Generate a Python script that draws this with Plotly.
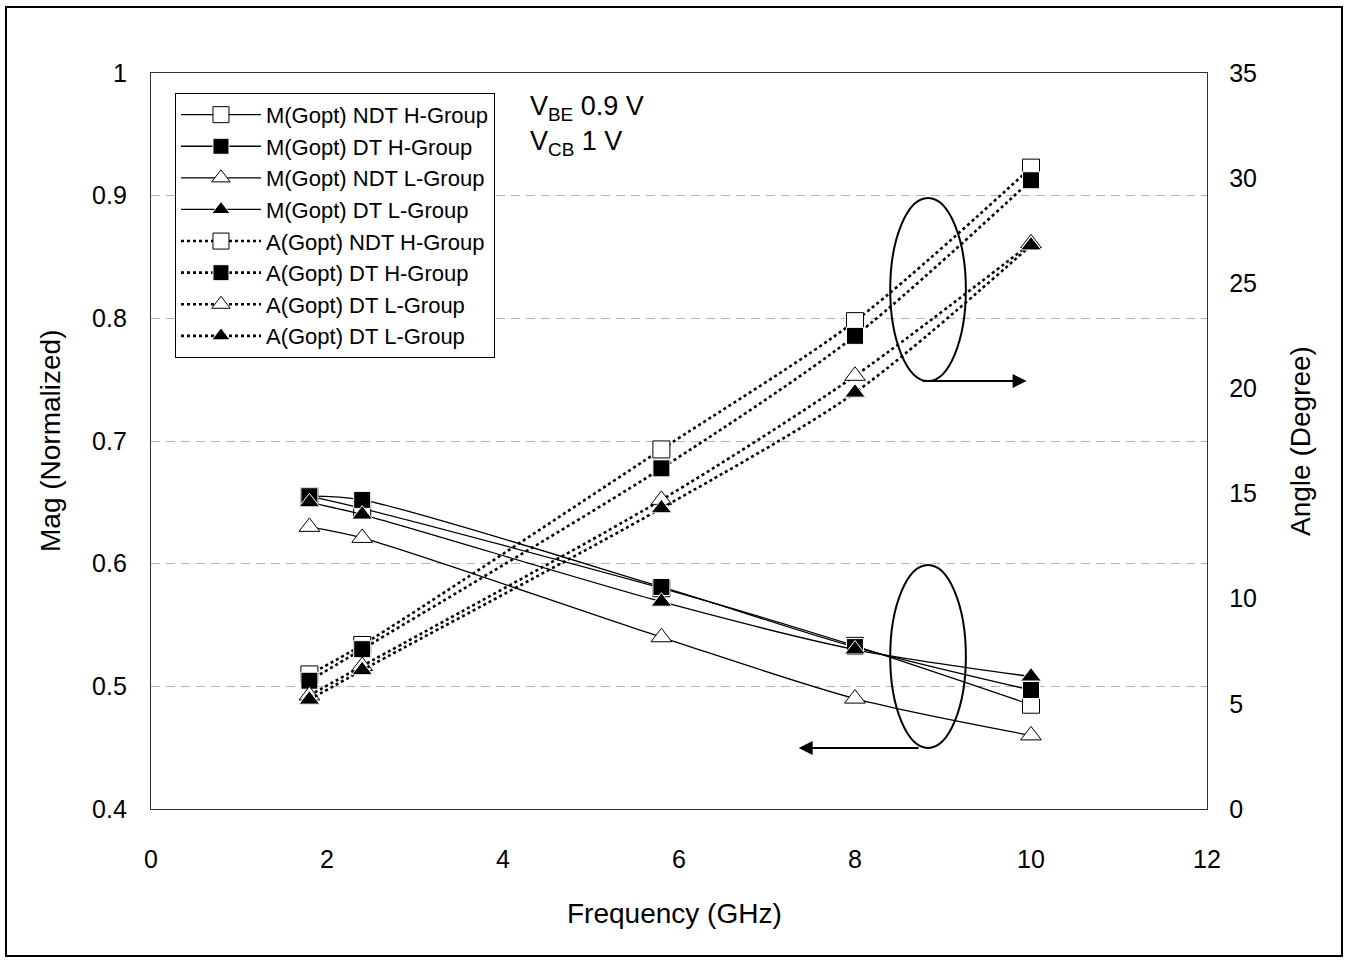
import plotly.graph_objects as go

# Frequency points (GHz)
freq = [1.8, 2.4, 5.8, 8.0, 10.0]

# Normalized magnitude of Gopt
mag_ndt_h = [0.655, 0.645, 0.580, 0.533, 0.485]
mag_dt_h = [0.655, 0.652, 0.581, 0.532, 0.497]
mag_ndt_l = [0.630, 0.621, 0.540, 0.490, 0.460]
mag_dt_l = [0.650, 0.640, 0.569, 0.530, 0.508]

# Angle of Gopt (degree)
ang_ndt_h = [6.4, 7.8, 17.1, 23.2, 30.5]
ang_dt_h = [6.1, 7.6, 16.2, 22.5, 29.9]
ang_ndt_l = [5.4, 6.8, 14.7, 20.6, 26.9]
ang_dt_l = [5.2, 6.6, 14.3, 19.8, 26.8]

names = [
    "M(Gopt) NDT H-Group", "M(Gopt) DT H-Group", "M(Gopt) NDT L-Group", "M(Gopt) DT L-Group",
    "A(Gopt) NDT H-Group", "A(Gopt) DT H-Group", "A(Gopt) DT L-Group", "A(Gopt) DT L-Group",
]

FONT = "Liberation Sans, Arial, sans-serif"
open_sq = dict(symbol="square", size=17, color="white", line=dict(color="black", width=1))
fill_sq = dict(symbol="square", size=17, color="black", line=dict(color="white", width=1))
open_tri = dict(symbol="triangle-up", size=18, color="white", line=dict(color="black", width=1))
fill_tri = dict(symbol="triangle-up", size=18, color="black", line=dict(color="white", width=1))

solid = dict(color="black", width=1.3, shape="spline", smoothing=0.8)
dotted = dict(color="black", width=2.6, dash="3px,3px", shape="spline", smoothing=0.8)

fig = go.Figure()
series = [
    (mag_ndt_h, open_sq, solid, "y"),
    (mag_dt_h, fill_sq, solid, "y"),
    (mag_ndt_l, open_tri, solid, "y"),
    (mag_dt_l, fill_tri, solid, "y"),
    (ang_ndt_h, open_sq, dotted, "y2"),
    (ang_dt_h, fill_sq, dotted, "y2"),
    (ang_ndt_l, open_tri, dotted, "y2"),
    (ang_dt_l, fill_tri, dotted, "y2"),
]
for (vals, mk, ln, ax), nm in zip(series, names):
    fig.add_trace(go.Scatter(
        x=freq, y=vals, name=nm, mode="lines+markers",
        marker=mk, line=ln, yaxis=ax,
    ))

axis_line = dict(showline=True, linecolor="#333333", linewidth=1.3, ticks="",
                 tickfont=dict(family=FONT, size=25, color="black"))

fig.update_layout(
    width=1350, height=963,
    margin=dict(l=151, r=143, t=73, b=154),
    paper_bgcolor="white", plot_bgcolor="white",
    font=dict(family=FONT, color="black"),
    showlegend=True,
    legend=dict(
        x=0.0227, y=0.973, xanchor="left", yanchor="top",
        bordercolor="black", borderwidth=1, bgcolor="white",
        font=dict(family=FONT, size=22, color="black"),
        traceorder="normal", itemwidth=80,
    ),
    xaxis=dict(range=[0, 12], dtick=2, showgrid=False, zeroline=False,
               mirror=True, ticklabelstandoff=28, **axis_line),
    yaxis=dict(range=[0.4, 1.0], dtick=0.1, showgrid=True, gridcolor="#b4b4b4",
               gridwidth=1.3, griddash="9px,6px", zeroline=False,
               ticklabelstandoff=18, **axis_line),
    yaxis2=dict(range=[0, 35], dtick=5, overlaying="y", side="right",
                showgrid=False, zeroline=False, ticklabelstandoff=16, **axis_line),
)

def paper_text(text, px, py, size, angle=0, xanchor="center"):
    fig.add_annotation(text=text, xref="paper", yref="paper",
                       x=(px - 151) / 1056, y=(809 - py) / 736,
                       xanchor=xanchor, yanchor="middle", textangle=angle,
                       showarrow=False, font=dict(family=FONT, size=size))

# Axis titles
paper_text("Frequency (GHz)", 674, 913, 28)
paper_text("Mag (Normalized)", 50, 441, 28, angle=-90)
paper_text("Angle (Degree)", 1300, 441, 28, angle=-90)

# Bias conditions
paper_text("V<sub>BE</sub> 0.9 V", 528, 108, 27, xanchor="left")
paper_text("V<sub>CB</sub> 1 V", 528, 143, 27, xanchor="left")

# Ellipses grouping the curves, with arrows pointing to their axis
fig.add_shape(type="circle", xref="x", yref="y2", x0=8.40, x1=9.26, y0=20.35, y1=29.05,
              line=dict(color="black", width=2))
fig.add_shape(type="circle", xref="x", yref="y2", x0=8.40, x1=9.26, y0=2.9, y1=11.6,
              line=dict(color="black", width=2))
fig.add_annotation(x=9.95, y=20.35, ax=8.75, ay=20.35, xref="x", yref="y2",
                   axref="x", ayref="y2", text="", showarrow=True,
                   arrowhead=2, arrowsize=1.4, arrowwidth=2, arrowcolor="black")
fig.add_annotation(x=7.36, y=2.9, ax=8.74, ay=2.9, xref="x", yref="y2",
                   axref="x", ayref="y2", text="", showarrow=True,
                   arrowhead=2, arrowsize=1.4, arrowwidth=2, arrowcolor="black")

# Outer frame
fig.add_shape(type="rect", xref="paper", yref="paper",
              x0=(6 - 151) / 1056, x1=(1342 - 151) / 1056,
              y0=(809 - 956) / 736, y1=(809 - 7) / 736,
              line=dict(color="black", width=2), layer="below")

fig.write_html("out.html")
